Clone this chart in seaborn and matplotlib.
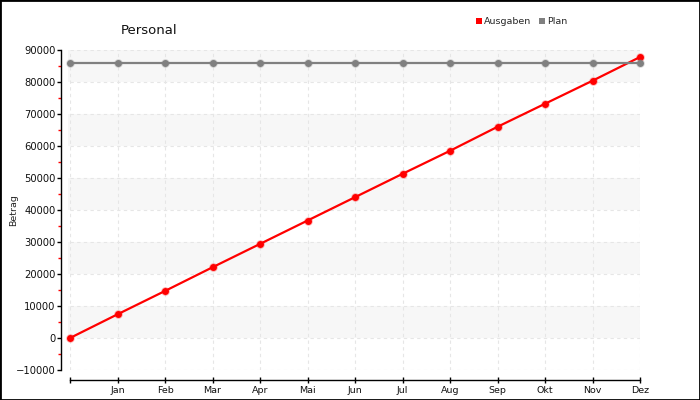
import matplotlib
matplotlib.use("Agg")
import matplotlib.pyplot as plt
from matplotlib.lines import Line2D
from matplotlib.patches import Rectangle
import seaborn as sns
import pandas as pd
import numpy as np

title = "Personal"
ylabel = "Betrag"
months = ["", "Jan", "Feb", "Mar", "Apr", "Mai", "Jun", "Jul", "Aug", "Sep", "Okt", "Nov", "Dez"]
ausgaben = [0, 7400, 14700, 22100, 29400, 36700, 44000, 51300, 58500, 66000, 73200, 80400, 87800]
plan = [86000] * 13
series_names = ["Ausgaben", "Plan"]
colors = {"Ausgaben": "#ff0000", "Plan": "#808080"}

df = pd.DataFrame({
    "x": list(range(len(months))) * 2,
    "Betrag": ausgaben + plan,
    "Serie": ["Ausgaben"] * len(months) + ["Plan"] * len(months),
})

sns.set_theme(style="white")
plt.rcParams["font.family"] = ["DejaVu Sans"]

PX = 72 / 100  # points per pixel

fig = plt.figure(figsize=(7, 4), dpi=100)
fig.patches.append(Rectangle((0, 0), 1, 1, transform=fig.transFigure, fill=False,
                             edgecolor="black", linewidth=2, zorder=10))
ax = fig.add_axes([70 / 700, 30 / 400, 570 / 700, 320 / 400])

ymin, ymax, ystep = -10000, 90000, 10000
ax.set_xlim(0, len(months) - 1)
ax.set_ylim(ymin, ymax)

# alternating bands
for i, lo in enumerate(range(ymin, ymax, ystep)):
    if i % 2 == 1:
        ax.axhspan(lo, lo + ystep, xmin=-2 / 570, color="#f7f7f7", zorder=0, lw=0, clip_on=False)

ax.set_yticks(range(ymin, ymax + 1, ystep))
ax.set_yticks(range(ymin + ystep // 2, ymax, ystep), minor=True)
ax.set_xticks(range(len(months)))
ax.set_xticklabels(months)

ax.grid(True, which="major", color="#e6e6e6", linestyle=(0, (3, 3)), linewidth=0.8)
ax.set_axisbelow(True)

sns.lineplot(data=df, x="x", y="Betrag", hue="Serie", palette=colors, ax=ax,
             marker="o", markersize=5, markeredgewidth=1.2, linewidth=1.6,
             legend=False, zorder=3)
for line in ax.lines:
    line.set_markeredgecolor(matplotlib.colors.to_rgba(line.get_color(), 0.3))
    line.set_clip_on(False)

for s in ["top", "right"]:
    ax.spines[s].set_visible(False)
ax.spines["left"].set_position(("outward", 9 * PX))
ax.spines["bottom"].set_position(("outward", 10 * PX))
for s in ["left", "bottom"]:
    ax.spines[s].set_color("black")
    ax.spines[s].set_linewidth(1)

ax.tick_params(axis="y", which="major", direction="out", length=4 * PX, width=1,
               color="black", labelsize=7.2, pad=1, left=True)
ax.tick_params(axis="y", which="minor", direction="out", length=3 * PX, width=1,
               color="red", left=True)
ax.tick_params(axis="x", which="major", direction="inout", length=6 * PX, width=1,
               color="black", labelsize=6.8, pad=2, bottom=True)

ax.set_xlabel("")
ax.set_ylabel(ylabel, fontsize=6.8)
ax.yaxis.set_label_coords((18 - 70) / 570, 0.5)
for lbl in ax.get_yticklabels() + ax.get_xticklabels():
    lbl.set_color("#111111")

fig.text(121 / 700, 1 - 30 / 400, title, fontsize=9.5, va="center", ha="left", color="#111111")

handles = [Line2D([0], [0], marker="s", linestyle="none", markersize=5,
                  markerfacecolor=colors[n], markeredgewidth=0) for n in series_names]
fig.legend(handles, series_names, loc="center left", bbox_to_anchor=(474 / 700, 1 - 22 / 400),
           ncol=2, frameon=False, fontsize=6.8, handletextpad=0.05, columnspacing=0.6,
           handlelength=1.0, borderaxespad=0, borderpad=0)

fig.savefig("out.png", dpi=100)
